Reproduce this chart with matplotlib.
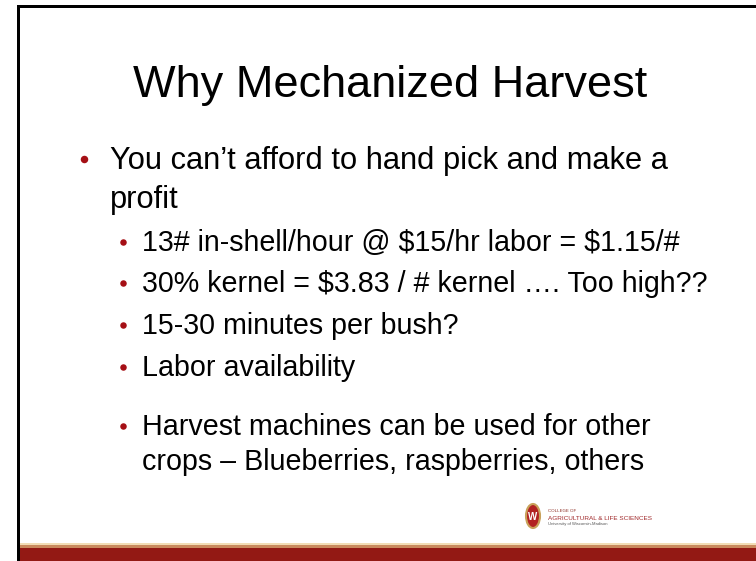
import matplotlib.pyplot as plt
from matplotlib.patches import Rectangle, Ellipse

# slide content
title = "Why Mechanized Harvest"
bullet_texts = [
    "You can\u2019t afford to hand pick and make a",
    "profit",
    "13# in-shell/hour @ $15/hr labor = $1.15/#",
    "30% kernel = $3.83 / # kernel \u2026. Too high??",
    "15-30 minutes per bush?",
    "Labor availability",
    "Harvest machines can be used for other",
    "crops \u2013 Blueberries, raspberries, others",
]
bullet_levels = [1, 1, 2, 2, 2, 2, 2, 2]
has_bullet = [True, False, True, True, True, True, True, False]
baselines = [169, 208, 251, 292, 334, 376, 435, 470]

plt.rcParams['font.family'] = ['Liberation Sans', 'DejaVu Sans']
plt.rcParams['text.parse_math'] = False

W, H = 756, 561
fig = plt.figure(figsize=(W / 100, H / 100), dpi=100)
ax = fig.add_axes([0, 0, 1, 1])
ax.set_xlim(0, W)
ax.set_ylim(H, 0)
ax.axis('off')

red = '#931914'

# frame lines
ax.add_patch(Rectangle((17, 5), W - 17, 3, color='black', lw=0))
ax.add_patch(Rectangle((17, 5), 2.5, H - 5, color='black', lw=0, zorder=5))

# bottom band
ax.add_patch(Rectangle((19, 543), W, 2, color='#F2DDB6', lw=0))
ax.add_patch(Rectangle((19, 545), W, 3, color='#C98A5E', lw=0))
ax.add_patch(Rectangle((19, 548), W, H - 548, color=red, lw=0))

# title
ax.text(390, 97, title, fontsize=32.5, ha='center', va='baseline', color='black')

# bullets
text_x = {1: 110, 2: 142}
dot_x = {1: 84, 2: 123}
size = {1: 22.2, 2: 20.6}
dot_size = {1: 7.5, 2: 6.5}
for txt, lvl, b, y in zip(bullet_texts, bullet_levels, has_bullet, baselines):
    ax.text(text_x[lvl], y, txt, fontsize=size[lvl], ha='left', va='baseline', color='black')
    if b:
        ax.plot(dot_x[lvl], y - size[lvl] * 0.45, 'o', color='#A50F15',
                markersize=dot_size[lvl] * 0.72, markeredgewidth=0)

# logo
ax.add_patch(Ellipse((533, 516), 14, 24, facecolor='#B22222', edgecolor='#C9A15A', lw=1.5))
ax.text(533, 517, "W", fontsize=7, fontweight='bold', color='white', ha='center', va='center')
ax.text(548, 512, "COLLEGE OF", fontsize=3.2, color='#8A2A20', ha='left', va='baseline')
ax.text(548, 519.5, "AGRICULTURAL & LIFE SCIENCES", fontsize=4.6, color='#A0282A',
        ha='left', va='baseline', family=['Liberation Sans Narrow', 'Liberation Sans'])
ax.text(548, 525.5, "University of Wisconsin-Madison", fontsize=3.0, color='#555555',
        ha='left', va='baseline')

fig.savefig('out.png', dpi=100)
